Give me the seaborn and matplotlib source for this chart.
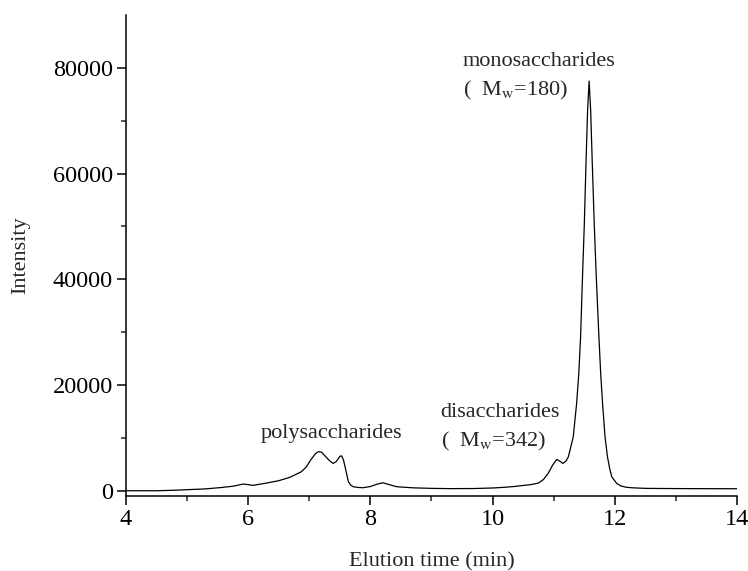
import numpy as np
import pandas as pd
import seaborn as sns
import matplotlib.pyplot as plt

# chromatogram (elution time in min, detector intensity)
elution_time = [4.00, 4.50, 4.80, 5.00, 5.30, 5.55, 5.75, 5.92, 6.00, 6.08,
                6.30, 6.50, 6.68, 6.87, 6.95, 7.03, 7.10, 7.15, 7.20, 7.26,
                7.33, 7.39, 7.44, 7.50, 7.53, 7.56, 7.60, 7.64, 7.68, 7.72,
                7.80, 7.88, 8.00, 8.10, 8.16, 8.21, 8.28, 8.43, 8.70, 9.00,
                9.30, 9.70, 10.00, 10.18, 10.35, 10.50, 10.62, 10.75, 10.83, 10.91,
                10.98, 11.05, 11.10, 11.15, 11.20, 11.24, 11.28, 11.32, 11.375, 11.41,
                11.44, 11.475, 11.50, 11.53, 11.555, 11.58, 11.605, 11.63, 11.665, 11.695,
                11.74, 11.77, 11.80, 11.84, 11.88, 11.92, 11.95, 12.03, 12.10,
                12.19, 12.30, 12.50, 12.85, 13.20, 13.60, 14.00]
intensity = [0, 0, 100, 200, 350, 600, 850, 1270, 1150, 1020,
             1450, 1900, 2530, 3590, 4500, 5930, 7000, 7400, 7300, 6560,
             5700, 5170, 5500, 6500, 6600, 5800, 3800, 1700, 1050, 760,
             620, 570, 800, 1200, 1400, 1500, 1250, 760, 550, 450,
             400, 420, 520, 640, 800, 1000, 1150, 1450, 2100, 3290,
             4800, 5930, 5600, 5170, 5600, 6420, 8300, 10200, 16500, 22000,
             29100, 41700, 50000, 62480, 72000, 77500, 72000, 62480, 50000, 41000,
             29100, 22000, 16500, 10200, 6420, 4000, 2650, 1400, 900,
             650, 550, 450, 420, 400, 390, 380]

x_ticks = [4, 6, 8, 10, 12, 14]
y_ticks = [0, 20000, 40000, 60000, 80000]

df = pd.DataFrame({"time": elution_time, "intensity": intensity})

sns.set_style("ticks")
plt.rcParams["font.family"] = ["Liberation Serif", "DejaVu Serif"]
plt.rcParams["mathtext.fontset"] = "stix"

fig = plt.figure(figsize=(7.48, 5.71), dpi=100)
ax = fig.add_axes([0.1684, 0.1313, 0.8169, 0.8424])

sns.lineplot(data=df, x="time", y="intensity", color="black", linewidth=0.9, ax=ax)

ax.set_xlim(4, 14)
ax.set_ylim(-1000, 90000)
ax.set_xticks(x_ticks)
ax.set_yticks(y_ticks)
ax.set_xticks(np.arange(5, 14, 2), minor=True)
ax.set_yticks([10000, 30000, 50000, 70000], minor=True)
ax.set_xticklabels([str(t) for t in x_ticks])
ax.set_yticklabels([str(t) for t in y_ticks])
ax.tick_params(axis="both", which="major", direction="out", length=6.5, width=1.1,
               labelsize=17.5, colors="black", pad=3)
ax.tick_params(axis="both", which="minor", direction="out", length=3.5, width=1.1)

sns.despine(ax=ax)
for side in ["left", "bottom"]:
    ax.spines[side].set_linewidth(1.1)
    ax.spines[side].set_color("black")

ax.set_xlabel("Elution time (min)", fontsize=16, labelpad=16)
ax.set_ylabel("Intensity", fontsize=16, labelpad=16)

ax.text(7.36, 9960, "polysaccharides", fontsize=16, ha="center", va="baseline")
ax.text(9.15, 13870, "disaccharides", fontsize=16, ha="left", va="baseline")
ax.text(9.15, 8310, "(  M$_{\\mathrm{w}}$=342)", fontsize=16, ha="left", va="baseline")
ax.text(9.51, 80300, "monosaccharides", fontsize=16, ha="left", va="baseline")
ax.text(9.51, 74770, "(  M$_{\\mathrm{w}}$=180)", fontsize=16, ha="left", va="baseline")

fig.savefig("out.png", dpi=100)
